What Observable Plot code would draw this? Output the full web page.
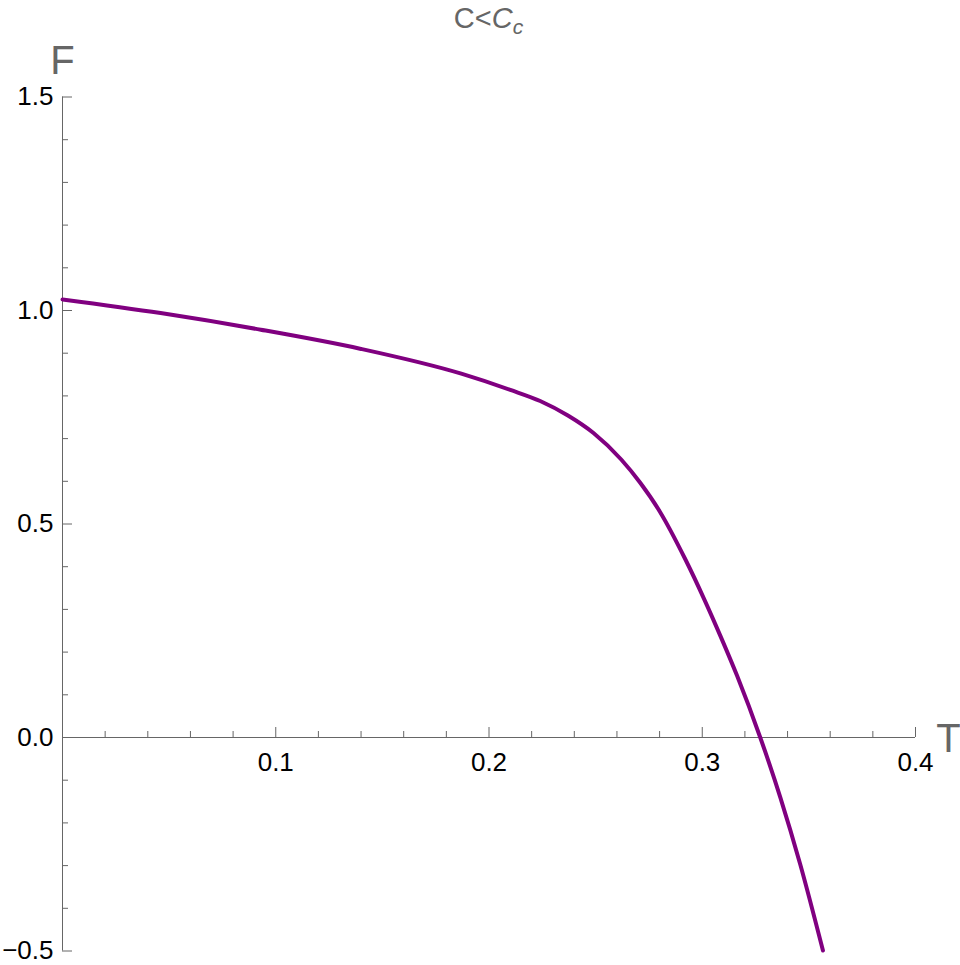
<!DOCTYPE html>
<html>
<head>
<meta charset="utf-8">
<script src="https://cdn.jsdelivr.net/npm/d3@7"></script>
<script src="https://cdn.jsdelivr.net/npm/@observablehq/plot@0.6"></script>
<style>
  html, body { margin: 0; padding: 0; background: #fff; }
  #title {
    box-sizing: border-box;
    width: 960px; height: 40px;
    padding-left: 62px; padding-right: 45px;
    text-align: center;
    font-family: "Liberation Sans", Arial, sans-serif;
    font-size: 29px; line-height: 36px; color: #666;
    overflow: visible; white-space: nowrap;
  }
  #title .it { font-style: italic; }
  #title .sub { font-style: italic; font-size: 21px; vertical-align: -6px; }
</style>
</head>
<body>
<div id="title">C&lt;<span class="it">C</span><span class="sub">c</span></div>
<div id="chart"></div>
<script>
// Curve: temperature T vs free energy F
const T = [0, 0.046, 0.093, 0.140, 0.187, 0.210, 0.224, 0.237, 0.249, 0.262, 0.271, 0.280, 0.292, 0.301, 0.3085, 0.3163, 0.3272, 0.3366, 0.346, 0.3566];
const F = [1.026, 0.994, 0.955, 0.910, 0.852, 0.814, 0.788, 0.754, 0.713, 0.651, 0.596, 0.530, 0.418, 0.323, 0.238, 0.145, 0, -0.140, -0.298, -0.499];

// Axis tick values
const xMajor = [0.1, 0.2, 0.3, 0.4];
const yMajor = [-0.5, 0.0, 0.5, 1.0, 1.5];
const xMinor = d3.range(1, 20).map(i => i * 0.02).filter(v => Math.abs(v * 10 - Math.round(v * 10)) > 1e-6);
const yMinor = d3.range(-4, 15).map(i => i * 0.1).filter(v => Math.abs(v * 2 - Math.round(v * 2)) > 1e-6);

const data = T.map((t, i) => ({T: t, F: F[i]}));
const font = "'Liberation Sans', Arial, sans-serif";
const axisColor = "#666";
const fmt = d => (d < 0 ? "\u2212" : "") + Math.abs(d).toFixed(1);

const chart = Plot.plot({
  width: 960,
  height: 925,
  marginTop: 56.5,
  marginBottom: 14.5,
  marginLeft: 62,
  marginRight: 45,
  x: {domain: [0, 0.4], axis: null},
  y: {domain: [-0.5, 1.5], axis: null},
  style: {fontFamily: font, background: "#fff", overflow: "visible"},
  marks: [
    // axes lines
    Plot.ruleY([0], {stroke: axisColor, strokeWidth: 1}),
    Plot.ruleX([0], {stroke: axisColor, strokeWidth: 1}),
    // x ticks (upward)
    Plot.ruleX(xMinor, {x: d => d, y1: 0, y2: 0, insetTop: -6, stroke: axisColor, strokeWidth: 1}),
    Plot.ruleX(xMajor, {x: d => d, y1: 0, y2: 0, insetTop: -10, stroke: axisColor, strokeWidth: 1}),
    // y ticks (rightward)
    Plot.ruleY(yMinor, {y: d => d, x1: 0, x2: 0, insetRight: -6, stroke: axisColor, strokeWidth: 1}),
    Plot.ruleY(yMajor.filter(d => d !== 0), {y: d => d, x1: 0, x2: 0, insetRight: -10, stroke: axisColor, strokeWidth: 1}),
    // tick labels
    Plot.text(xMajor, {x: d => d, y: 0, text: fmt, dy: 25, fontSize: 26, fill: "#000"}),
    Plot.text(yMajor, {x: 0, y: d => d, text: fmt, textAnchor: "end", dx: -9, fontSize: 26, fill: "#000"}),
    // axis labels
    Plot.text(["F"], {x: 0, y: 1.5, text: d => d, dy: -36, fontSize: 40, fill: "#666"}),
    Plot.text(["T"], {x: 0.4, y: 0, text: d => d, dx: 33, dy: 2, fontSize: 40, fill: "#666"}),
    // curve
    Plot.line(data, {x: "T", y: "F", stroke: "#800080", strokeWidth: 4, curve: "monotone-x"})
  ]
});
document.getElementById("chart").appendChild(chart);
</script>
</body>
</html>
